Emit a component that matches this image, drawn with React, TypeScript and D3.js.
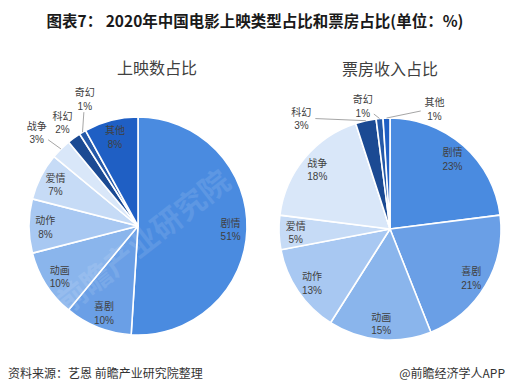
import React, { useEffect, useRef } from 'react';
import * as d3 from 'd3';

const categories = ['剧情', '喜剧', '动画', '动作', '爱情', '战争', '科幻', '奇幻', '其他'];
const screeningShare = [51, 10, 10, 8, 7, 3, 2, 1, 8];
const boxOfficeShare = [23, 21, 15, 13, 5, 18, 3, 1, 1];
const colors = ['#4a8be0', '#6a9fe6', '#8ab5ec', '#a8c8f2', '#c6dbf6', '#d9e7f9', '#1b4a93', '#2559a8', '#1f5fc4'];

// label nudges for small outside slices (degrees, radius factor)
const leftNudge: Record<string, [number, number]> = { 战争: [-2, 1.27], 科幻: [0, 1.18], 奇幻: [8, 1.27] };
const rightNudge: Record<string, [number, number]> = { 科幻: [-26, 1.28], 奇幻: [-7, 1.14], 其他: [22, 1.16] };

const W = 510;
const H = 389;
const FONT = '"Noto Sans CJK SC", "Noto Sans", sans-serif';
const NUM_FONT = '"Liberation Sans", Arial, sans-serif';

interface Slice { name: string; value: number; color: string }

function drawPie(
  g: d3.Selection<SVGGElement, unknown, null, undefined>,
  values: number[],
  title: string,
  cx: number,
  cy: number,
  r: number,
  titleDx: number,
  nudge: Record<string, [number, number]>,
) {
  const data: Slice[] = categories.map((name, i) => ({ name, value: values[i], color: colors[i] }));
  const pie = d3.pie<Slice>().value(d => d.value).sort(null);
  const arcs = pie(data);
  const arc = d3.arc<d3.PieArcDatum<Slice>>().innerRadius(0).outerRadius(r);

  const root = g.append('g').attr('transform', `translate(${cx},${cy})`);

  root.selectAll('path.slice')
    .data(arcs)
    .join('path')
    .attr('class', 'slice')
    .attr('d', arc)
    .attr('fill', d => d.data.color)
    .attr('stroke', '#ffffff')
    .attr('stroke-width', 1.6)
    .attr('stroke-linejoin', 'round');

  // title
  g.append('text')
    .attr('x', cx + titleDx)
    .attr('y', cy - r - 43)
    .attr('text-anchor', 'middle')
    .attr('font-family', FONT)
    .attr('font-size', 16)
    .attr('fill', '#404040')
    .text(title);

  const polar = (deg: number, rad: number): [number, number] => {
    const a = (deg * Math.PI) / 180;
    return [Math.sin(a) * rad, -Math.cos(a) * rad];
  };

  arcs.forEach(a => {
    const mid = ((a.startAngle + a.endAngle) / 2) * 180 / Math.PI;
    const n = nudge[a.data.name];
    const [lx, ly] = n ? polar(mid + n[0], r * n[1]) : polar(mid, r * 0.85);

    if (n) {
      const [sx, sy] = polar(mid, r);
      const dx = sx - lx;
      const dy = sy - ly;
      const dist = Math.hypot(dx, dy);
      if (dist > 20.5) {
        root.append('line')
          .attr('x1', sx)
          .attr('y1', sy)
          .attr('x2', lx + (dx / dist) * 14)
          .attr('y2', ly + (dy / dist) * 14)
          .attr('stroke', '#a6a6a6')
          .attr('stroke-width', 1);
      }
    }

    root.append('text')
      .attr('x', lx)
      .attr('y', ly - 2)
      .attr('text-anchor', 'middle')
      .attr('font-family', FONT)
      .attr('font-size', 10)
      .attr('fill', '#404040')
      .text(a.data.name);

    root.append('text')
      .attr('x', lx)
      .attr('y', ly + 11.5)
      .attr('text-anchor', 'middle')
      .attr('font-family', NUM_FONT)
      .attr('font-size', 10)
      .attr('fill', '#404040')
      .text(`${a.data.value}%`);
  });
}

export default function App() {
  const svgRef = useRef<SVGSVGElement>(null);

  useEffect(() => {
    if (!svgRef.current) return;
    const svg = d3.select(svgRef.current);
    svg.selectAll('*').remove();

    svg.append('rect').attr('width', W).attr('height', H).attr('fill', '#ffffff');

    svg.append('text')
      .attr('x', W / 2)
      .attr('y', 27)
      .attr('text-anchor', 'middle')
      .attr('font-family', FONT)
      .attr('font-weight', 'bold')
      .attr('font-size', 15.5)
      .attr('fill', '#1a1a1a')
      .text('图表7： 2020年中国电影上映类型占比和票房占比(单位：%)');

    const g = svg.append('g');
    drawPie(g, screeningShare, '上映数占比', 138, 226, 109, 19, leftNudge);
    drawPie(g, boxOfficeShare, '票房收入占比', 390, 229, 111, 0, rightNudge);

    // faint watermark
    svg.append('text')
      .attr('transform', 'translate(150,250) rotate(-38)')
      .attr('text-anchor', 'middle')
      .attr('font-family', FONT)
      .attr('font-weight', 'bold')
      .attr('font-size', 30)
      .attr('fill', '#ffffff')
      .attr('opacity', 0.1)
      .text('前瞻产业研究院');

    svg.append('text')
      .attr('x', 8)
      .attr('y', 378)
      .attr('font-family', FONT)
      .attr('font-size', 12)
      .attr('fill', '#333333')
      .text('资料来源：艺恩 前瞻产业研究院整理');

    svg.append('text')
      .attr('x', 505)
      .attr('y', 378)
      .attr('text-anchor', 'end')
      .attr('font-family', FONT)
      .attr('font-size', 12)
      .attr('fill', '#333333')
      .text('@前瞻经济学人APP');
  }, []);

  return (
    <svg
      ref={svgRef}
      width={W}
      height={H}
      style={{ position: 'absolute', left: 0, top: 0, display: 'block' }}
    />
  );
}
